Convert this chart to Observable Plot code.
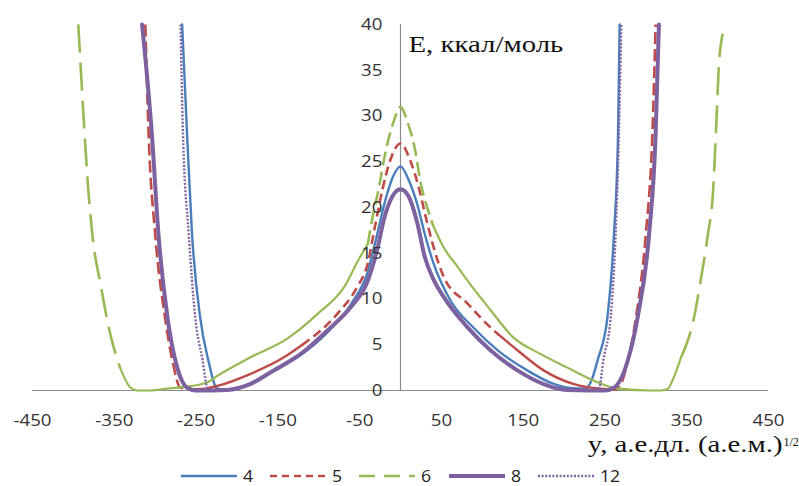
<!DOCTYPE html>
<html>
<head>
<meta charset="utf-8">
<script src="https://cdn.jsdelivr.net/npm/d3@7"></script>
<script src="https://cdn.jsdelivr.net/npm/@observablehq/plot@0.6"></script>
<style>
  html, body { margin: 0; padding: 0; background: #fff; }
  #wrap { position: relative; width: 799px; height: 486px; overflow: hidden; }
  #legend { position: absolute; left: 0; top: 464px; width: 799px; height: 24px;
            display: flex; justify-content: center; align-items: center;
            font-family: "Open Sans", sans-serif; font-size: 16px; color: #222; }
  #legend .item { display: flex; align-items: center; margin: 0 9px; }
  #legend .lab { display: inline-block; transform: scaleX(1.1); transform-origin: left center; margin-left: 6px; }
</style>
</head>
<body>
<div id="wrap"><div id="chart"></div><div id="legend"></div></div>
<script>
// ---- data ----
const xTicks = [-450, -350, -250, -150, -50, 50, 150, 250, 350, 450];
const yTicks = [0, 5, 10, 15, 20, 25, 30, 35, 40];
const xTitle = "y, а.е.дл. (а.е.м.)";
const xTitleSup = "1/2";
const yTitle = "E, ккал/моль";

const seriesNames = ["4", "5", "6", "8", "12"];

const s4x = [-267, -261, -255, -245, -235, -224, -212, -200, -185, -155, -120, -90, -60, -40, -30, -20, -10, 0, 10, 20, 30, 40, 60, 90, 120, 155, 185, 205, 226, 234, 241, 253, 261, 266, 268];
const s4E = [40, 28, 17.2, 8, 3.3, 0.2, 0.1, 0.3, 0.7, 2.1, 4.0, 6.3, 9.5, 13, 16.5, 20.3, 23.2, 24.5, 23, 20.5, 17, 14, 10, 6.8, 4.3, 2.2, 0.8, 0.3, 0.2, 1.2, 3.3, 8, 17, 28, 40];

const s5x = [-312, -308, -300, -288, -279, -269, -255, -240, -224, -184, -143, -120, -77, -53, -40, -30, -22, -12, 0, 12, 22, 30, 40, 53, 82, 110, 120, 143, 175, 212, 245, 255, 262, 269, 278, 288, 300, 308, 312];
const s5E = [40, 28, 17.1, 8, 3.3, 0.3, 0.15, 0.2, 0.5, 1.8, 3.6, 5.0, 8.4, 11.3, 13.9, 18.5, 22, 25.3, 27, 25.1, 22.3, 19.3, 15.8, 12.4, 9.5, 6.9, 6.1, 4.4, 2.2, 0.7, 0.2, 0.15, 0.1, 0.6, 3.3, 8, 17.1, 28, 40];

const s6x = [-394, -388, -382, -376, -367, -355, -343, -330, -322, -306, -285, -266, -236, -224, -184, -138, -101, -69, -50, -40, -34, -27, -18, -8, 0, 8, 18, 24, 37, 40, 53, 70, 82, 110, 138, 171, 204, 236, 266, 306, 318, 327, 334, 343, 359, 367, 376, 382, 386, 389, 394];
const s6E = [40, 30.6, 22.2, 16.4, 11.7, 6.2, 2.5, 0.3, 0, 0, 0.2, 0.36, 0.9, 1.6, 3.6, 5.7, 8.4, 11.3, 14.5, 16, 19, 21.9, 26.2, 29.5, 31, 29.5, 26.2, 23, 18.8, 18.0, 15.6, 13.5, 12.0, 8.8, 5.8, 4, 2.5, 1.1, 0.2, 0, 0, 0.2, 1.4, 3.6, 8, 12, 17.1, 21.5, 28.7, 35, 39];

const s8x = [-316, -304, -296, -285, -273, -261, -250, -230, -212, -184, -155, -122, -89, -61, -40, -28, -20, -10, 0, 10, 20, 30, 40, 53, 82, 110, 143, 175, 204, 230, 250, 261, 278, 290, 304, 312, 316];
const s8E = [40, 28, 17.1, 8, 2.5, 0.3, 0, 0, 0.05, 0.7, 2.2, 4.0, 6.6, 9.1, 12.0, 15.6, 18.8, 21.2, 22, 21.2, 18.5, 14.5, 12.2, 10.2, 6.9, 4.4, 2.2, 0.7, 0.05, 0, 0, 0.3, 3.3, 8, 17.1, 28, 40];

const s12x = [-269, -266, -259, -251, -242, -236, -225, -212, -184, -155, -122, -89, -61, -40, -28, -20, -10, 0, 10, 20, 30, 40, 53, 82, 110, 143, 175, 204, 230, 243, 248, 257, 263, 267, 270];
const s12E = [40, 28, 17.2, 8, 3.3, 0.3, 0, 0.05, 0.7, 2.2, 4.0, 6.6, 9.1, 12.0, 15.6, 18.8, 21.2, 22, 21.2, 18.5, 14.5, 12.2, 10.2, 6.9, 4.4, 2.2, 0.7, 0.05, 0, 0.3, 3.3, 8, 17, 28, 40];

// ---- styling ----
const C = {"4": "#4a7ebb", "5": "#be4b48", "6": "#98b954", "8": "#7d60a0", "12": "#8064a2"};
const rows = (xs, Es) => xs.map((x, i) => ({x, E: Es[i]}));

function part(xs, Es, test, opts) {
  return Plot.line(rows(xs, Es), {
    x: "x",
    y: d => (test(Math.abs(d.x)) ? d.E : NaN),
    curve: "monotone-x",
    strokeLinejoin: "round",
    ...opts
  });
}
const all = () => true;

const sansFont = "Open Sans";
const serifFont = "Liberation Serif";

const plot = Plot.plot({
  width: 799,
  height: 464,
  marginLeft: 32,
  marginRight: 31,
  marginTop: 24,
  marginBottom: 74,
  x: {domain: [-450, 450], axis: null},
  y: {domain: [0, 40], axis: null},
  style: {background: "transparent", overflow: "visible"},
  marks: [
    Plot.ruleY([0], {stroke: "#8c8c8c", strokeWidth: 1.2}),
    Plot.ruleX([0], {y1: 0, y2: 40, stroke: "#8c8c8c", strokeWidth: 1.2}),
    // series 4
    part(s4x, s4E, all, {stroke: C["4"], strokeWidth: 2.4}),
    // series 5
    part(s5x, s5E, a => a <= 120, {stroke: C["5"], strokeWidth: 2.6, strokeDasharray: "9,5", strokeLinecap: "butt"}),
    part(s5x, s5E, a => a >= 120 && a <= 255, {stroke: C["5"], strokeWidth: 2.4}),
    part(s5x, s5E, a => a >= 255, {stroke: C["5"], strokeWidth: 2.6, strokeDasharray: "12,5", strokeLinecap: "butt"}),
    // series 6
    part(s6x, s6E, a => a <= 40, {stroke: C["6"], strokeWidth: 2.6, strokeDasharray: "14,6", strokeLinecap: "butt"}),
    part(s6x, s6E, a => a >= 40 && a <= 343, {stroke: C["6"], strokeWidth: 2.2}),
    part(s6x, s6E, a => a >= 343, {stroke: C["6"], strokeWidth: 2.6, strokeDasharray: "28,10", strokeLinecap: "butt"}),
    // series 8
    part(s8x, s8E, all, {stroke: C["8"], strokeWidth: 4}),
    // series 12
    part(s12x, s12E, all, {stroke: C["12"], strokeWidth: 2.4, strokeDasharray: "2,1.6", strokeLinecap: "butt"}),
    // tick labels
    Plot.text(xTicks, {x: d => d, frameAnchor: "bottom", dy: 35.5, text: d => String(d),
      fontFamily: sansFont, fontSize: 17, fill: "#333"}),
    Plot.text(yTicks, {x: () => 0, y: d => d, text: d => String(d), textAnchor: "end", dx: -18,
      fontFamily: sansFont, fontSize: 17, fill: "#333"}),
    // axis titles
    Plot.text([yTitle], {x: () => 0, frameAnchor: "top", textAnchor: "start", dx: 8, dy: 10.3,
      fontFamily: serifFont, fontSize: 24, fill: "#111"}),
    Plot.text([xTitle], {frameAnchor: "bottom-right", textAnchor: "end", dx: 14, dy: 61.3,
      fontFamily: serifFont, fontSize: 24, fill: "#111"}),
    Plot.text([xTitleSup], {frameAnchor: "bottom-right", textAnchor: "start", dx: 15, dy: 55,
      fontFamily: serifFont, fontSize: 12, fill: "#111"})
  ]
});

// horizontally widen the text as in the reference picture
d3.select(plot).selectAll("text").each(function () {
  const g = this.parentNode;
  const ff = (g && g.getAttribute && g.getAttribute("font-family")) || "";
  const fs = (g && g.getAttribute && g.getAttribute("font-size")) || "";
  const s = fs === "12" ? 1.0 : (ff.includes("Serif") ? 1.2 : 1.1);
  const t = this.getAttribute("transform");
  if (t) {
    this.setAttribute("transform", t + ` scale(${s},1)`);
  } else {
    const x = +this.getAttribute("x") || 0, y = +this.getAttribute("y") || 0;
    this.removeAttribute("x"); this.removeAttribute("y");
    this.setAttribute("transform", `translate(${x},${y}) scale(${s},1)`);
  }
});

document.getElementById("chart").appendChild(plot);

// legend
const legendStyle = {
  "4": {dash: null, w: 2.6},
  "5": {dash: "7,5", w: 2.6},
  "6": {dash: "16,9", w: 2.6},
  "8": {dash: null, w: 4},
  "12": {dash: "2,1.6", w: 2.4}
};
const legend = d3.select("#legend");
seriesNames.forEach(name => {
  const item = legend.append("div").attr("class", "item");
  const sw = item.append("svg").attr("width", 56).attr("height", 10);
  const st = legendStyle[name];
  sw.append("line").attr("x1", 0).attr("x2", 56).attr("y1", 5).attr("y2", 5)
    .attr("stroke", C[name]).attr("stroke-width", st.w)
    .attr("stroke-dasharray", st.dash);
  item.append("span").attr("class", "lab").text(name);
});
</script>
</body>
</html>
